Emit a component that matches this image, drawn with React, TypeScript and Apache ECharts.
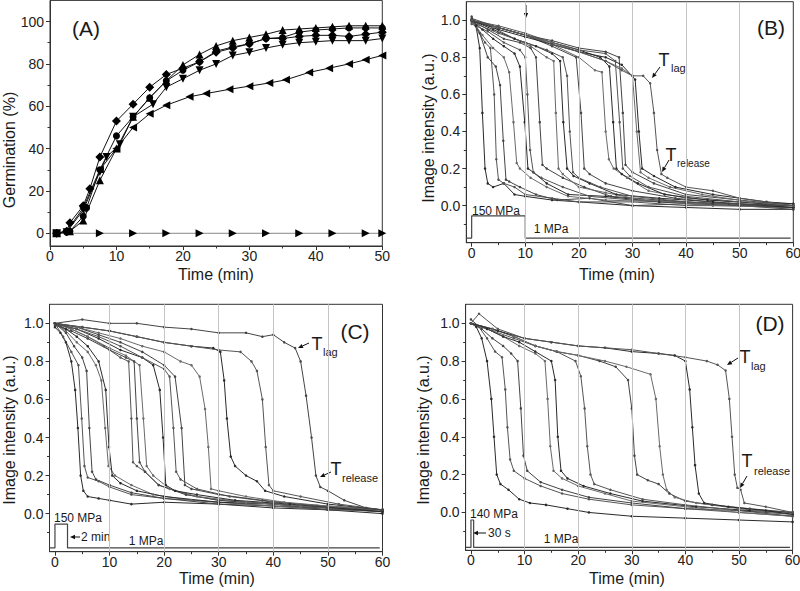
import React, { useEffect, useRef } from "react";
import * as echarts from "echarts";

const FONT = "Liberation Sans, Arial, sans-serif";

// ---------- Panel A: germination (%) vs time (min) ----------
const germDiamond = [[1,0],[2.5,1],[3,5],[5,13],[6,21],[7.5,36],[10,53],[12.5,61],[15,69],[17.5,75],[20,78],[22.5,81],[25,85.5],[27.5,87.5],[30,89.5],[32.5,92],[35,92],[37.5,93],[40,93.5],[42.5,93.5],[45,93],[47.5,94],[50,95]];
const germCircle = [[1,0],[2.5,0.5],[3,1],[5,8],[5.5,12],[7.5,30],[10,46],[12.5,55],[15,64],[17.5,72],[20,77],[22.5,81],[25,86],[27.5,88],[30,89.5],[32.5,92],[35,92.5],[37.5,95],[40,96],[42.5,96.5],[45,97],[47.5,97],[50,97]];
const germUp = [[1,0],[3,1],[5,6],[7.5,25],[10,40],[12.5,55],[15,64],[17.5,72],[20,79.5],[22.5,84.5],[25,88.5],[27.5,91],[30,92.5],[32.5,94],[35,96],[37.5,96.5],[40,97],[42.5,97.5],[45,98],[47.5,98],[50,98]];
const germDown = [[1,0],[2.5,0.5],[5,11],[7.5,29],[8.5,36],[10.5,42],[12.5,55],[15.5,61],[17.5,69],[20,73],[22.5,77],[25,80],[27.5,84],[30,85.5],[32.5,87.5],[35,89],[37.5,90],[40,90.5],[42.5,91],[45,91],[47.5,91],[50,92]];
const germLeft = [[1,0],[2.5,1],[5,12],[7.5,30],[10,40],[12.5,50],[15,56.5],[17.5,60.5],[21,64.5],[23.5,66],[27,68],[30,69.5],[33,71],[35.5,72.5],[39,76],[42,78],[45,80],[47.5,82],[50,84]];
const germRight = [[1,0],[7.5,0],[12.5,0],[17.5,0],[22.5,0],[27.5,0],[32.5,0],[37.5,0],[42.5,0],[47.5,0],[50,0]];

// ---------- Panel B: image intensity traces, 150 MPa for 10 min ----------
const tracesB = [
  [[0,1.0],[0.8,0.97],[1.5,0.85],[2.0,0.5],[2.5,0.2],[3,0.12],[4,0.1],[6,0.12],[8,0.06],[10,0.05],[15,0.03],[20,0.02],[30,0.0],[40,-0.01],[50,-0.02],[60,-0.02]],
  [[0,1.0],[1,0.95],[2.5,0.88],[3.5,0.85],[4.2,0.6],[4.6,0.25],[5,0.14],[6,0.12],[8,0.1],[10,0.06],[15,0.04],[20,0.02],[30,0.02],[40,0.0],[50,0.0],[60,-0.01]],
  [[0,1.02],[1.5,0.93],[3,0.8],[4.5,0.75],[5.3,0.65],[5.9,0.35],[6.4,0.14],[7,0.13],[9,0.1],[12,0.06],[16,0.03],[22,0.04],[30,0.0],[40,0.01],[50,0.0],[60,-0.02]],
  [[0,1.0],[2,0.92],[4,0.85],[6,0.8],[7,0.72],[7.8,0.45],[8.4,0.23],[9,0.2],[11,0.15],[14,0.1],[18,0.05],[25,0.03],[35,0.02],[45,0.0],[60,-0.01]],
  [[0,1.0],[2,0.95],[4,0.9],[6,0.86],[8,0.82],[9,0.75],[9.9,0.45],[10.5,0.2],[11.5,0.18],[14,0.12],[18,0.06],[25,0.05],[35,0.02],[45,0.01],[60,0.0]],
  [[0,0.98],[3,0.94],[6,0.88],[9,0.84],[10,0.8],[10.4,0.6],[10.9,0.3],[11.5,0.18],[13,0.15],[17,0.1],[22,0.05],[30,0.03],[40,0.02],[50,0.0],[60,-0.01]],
  [[0,1.0],[3,0.95],[6,0.9],[9,0.88],[11,0.85],[12,0.8],[12.7,0.45],[13.2,0.22],[14,0.2],[17,0.15],[21,0.1],[26,0.05],[35,0.03],[45,0.01],[60,-0.01]],
  [[0,1.0],[4,0.96],[8,0.9],[11,0.86],[14,0.8],[15.3,0.78],[15.7,0.5],[16.2,0.2],[17,0.17],[20,0.1],[25,0.07],[32,0.03],[42,0.01],[60,0.0]],
  [[0,1.0],[4,0.95],[8,0.9],[12,0.86],[15,0.82],[16.5,0.78],[17.1,0.45],[17.8,0.2],[19,0.16],[22,0.12],[27,0.06],[35,0.04],[45,0.02],[60,-0.01]],
  [[0,0.99],[5,0.93],[10,0.88],[14,0.84],[17,0.8],[17.8,0.7],[18.3,0.4],[18.9,0.18],[20,0.15],[24,0.1],[30,0.05],[40,0.02],[50,0.01],[60,0.0]],
  [[0,1.0],[5,0.96],[10,0.92],[15,0.86],[19.5,0.8],[20.4,0.5],[21,0.2],[22,0.17],[25,0.12],[30,0.08],[38,0.04],[48,0.01],[60,0.0]],
  [[0,1.0],[5,0.96],[10,0.92],[15,0.87],[20,0.8],[23,0.73],[24.3,0.72],[25,0.4],[25.6,0.25],[26.5,0.2],[29,0.15],[33,0.08],[40,0.04],[50,0.02],[60,0.0]],
  [[0,1.0],[5,0.96],[10,0.92],[15,0.88],[20,0.84],[24,0.8],[25.7,0.75],[26.4,0.45],[27,0.2],[28,0.17],[31,0.12],[36,0.06],[44,0.03],[60,0.0]],
  [[0,1.0],[5,0.97],[10,0.93],[15,0.88],[20,0.84],[25,0.82],[26.8,0.78],[27.6,0.45],[28.2,0.2],[29.5,0.16],[33,0.1],[40,0.05],[50,0.02],[60,0.01]],
  [[0,1.01],[5,0.96],[10,0.92],[15,0.89],[20,0.85],[25,0.83],[27.5,0.8],[28.2,0.5],[28.7,0.22],[30,0.18],[34,0.12],[40,0.06],[50,0.03],[60,0.0]],
  [[0,1.0],[5,0.96],[10,0.92],[15,0.88],[20,0.83],[25,0.78],[28,0.74],[30,0.7],[30.8,0.4],[31.5,0.18],[33,0.15],[37,0.1],[43,0.06],[52,0.02],[60,0.0]],
  [[0,1.0],[5,0.95],[10,0.91],[15,0.87],[20,0.83],[25,0.8],[28,0.76],[30.5,0.68],[31.2,0.4],[31.8,0.2],[34,0.16],[38,0.1],[45,0.06],[55,0.02],[60,0.01]],
  [[0,1.0],[5,0.96],[10,0.92],[15,0.87],[20,0.83],[25,0.78],[28,0.73],[30,0.7],[32,0.7],[33.3,0.66],[34,0.5],[34.6,0.3],[35.4,0.17],[36.5,0.15],[40,0.1],[45,0.08],[50,0.04],[55,0.02],[60,0.0]],
];
const pressureB = [[-1,-0.175],[0,-0.175],[0,-0.055],[10,-0.055],[10,-0.175],[59.5,-0.175]];

// ---------- Panel C: 150 MPa for 2 min ----------
const tracesC = [
  [[0,0.98],[1,0.95],[2,0.9],[3,0.8],[3.7,0.65],[4.2,0.45],[4.7,0.2],[5.2,0.12],[6,0.09],[8,0.08],[10,0.07],[14,0.05],[20,0.06],[30,0.05],[40,0.03],[50,0.02],[60,0.0]],
  [[0,1.0],[1.5,0.93],[3,0.85],[4.3,0.78],[4.9,0.5],[5.4,0.25],[6,0.19],[8,0.17],[10,0.14],[14,0.1],[20,0.08],[30,0.06],[40,0.04],[50,0.03],[60,0.01]],
  [[0,1.0],[2,0.95],[3.5,0.88],[5,0.82],[5.8,0.75],[6.3,0.45],[6.8,0.22],[7.5,0.18],[10,0.15],[14,0.11],[20,0.08],[30,0.05],[40,0.04],[50,0.02],[60,0.02]],
  [[0,1.0],[2,0.96],[4,0.9],[6,0.85],[7.5,0.78],[8.5,0.7],[9.2,0.45],[9.8,0.25],[11,0.2],[14,0.15],[18,0.1],[25,0.07],[35,0.05],[45,0.03],[60,0.01]],
  [[0,1.0],[2,0.97],[4,0.93],[6,0.88],[8,0.8],[9.3,0.65],[9.9,0.35],[10.5,0.2],[12,0.16],[15,0.12],[20,0.09],[30,0.06],[40,0.05],[50,0.03],[60,0.02]],
  [[0,1.0],[3,0.97],[6,0.93],[9,0.88],[12,0.82],[13.5,0.8],[14,0.5],[14.3,0.27],[15,0.25],[16.5,0.22],[19,0.15],[24,0.1],[30,0.07],[40,0.05],[50,0.03],[60,0.01]],
  [[0,0.99],[3,0.96],[6,0.92],[10,0.86],[13,0.82],[14.5,0.8],[15,0.5],[15.5,0.27],[16.5,0.22],[19,0.15],[24,0.1],[30,0.07],[40,0.05],[50,0.02],[60,0.02]],
  [[0,1.0],[3,0.97],[6,0.93],[10,0.87],[13,0.83],[15.5,0.78],[16.2,0.5],[16.8,0.25],[18,0.2],[21,0.13],[26,0.09],[35,0.06],[45,0.04],[60,0.02]],
  [[0,1.0],[4,0.97],[8,0.92],[12,0.86],[16,0.82],[18,0.78],[19.2,0.65],[19.8,0.4],[20.3,0.15],[22,0.12],[26,0.1],[33,0.07],[43,0.05],[60,0.01]],
  [[0,1.0],[4,0.97],[8,0.93],[12,0.88],[16,0.82],[20,0.76],[21,0.72],[21.7,0.45],[22.2,0.22],[23,0.18],[26,0.13],[32,0.09],[40,0.06],[50,0.04],[60,0.02]],
  [[0,1.0],[4,0.98],[8,0.94],[12,0.9],[16,0.85],[20,0.78],[22,0.72],[23.2,0.45],[23.8,0.15],[25,0.13],[30,0.1],[38,0.07],[48,0.04],[60,0.02]],
  [[0,1.0],[4,0.98],[8,0.95],[12,0.92],[16,0.88],[20,0.85],[23,0.8],[25,0.78],[26.5,0.72],[27.5,0.55],[28.1,0.35],[28.6,0.13],[30,0.12],[35,0.09],[42,0.06],[50,0.04],[60,0.02]],
  [[0,1.0],[5,0.98],[10,0.96],[15,0.93],[20,0.9],[25,0.88],[29,0.87],[30.3,0.85],[31,0.7],[31.5,0.5],[32.2,0.3],[33,0.25],[35,0.2],[37,0.17],[38.5,0.12],[42,0.09],[50,0.05],[60,0.02]],
  [[0,1.0],[5,0.98],[10,0.96],[15,0.93],[20,0.9],[25,0.88],[30,0.86],[34,0.85],[36,0.8],[37,0.75],[38,0.6],[38.6,0.35],[39.2,0.15],[40,0.12],[45,0.09],[52,0.05],[60,0.02]],
  [[0,1.0],[5,1.02],[10,1.0],[15,1.0],[20,0.98],[25,0.97],[30,0.95],[35,0.95],[38,0.93],[40,0.94],[42,0.9],[44,0.87],[45,0.8],[46,0.62],[47,0.4],[47.8,0.2],[48.6,0.14],[50,0.12],[53,0.07],[57,0.03],[60,0.02]],
];
const pressureC = [[-1,-0.18],[0,-0.18],[0,-0.055],[2.3,-0.055],[2.3,-0.18],[59.5,-0.18]];

// ---------- Panel D: 140 MPa for 30 s ----------
const tracesD = [
  [[0,1.0],[1,0.98],[2,0.92],[3,0.8],[3.8,0.6],[4.3,0.4],[4.8,0.2],[5.5,0.15],[7,0.12],[9,0.07],[11,0.05],[14,0.04],[18,0.02],[22,0.0],[30,-0.02],[40,-0.03],[50,-0.04],[60,-0.05]],
  [[0,1.0],[1.5,0.98],[3,0.92],[4.5,0.85],[5.8,0.82],[6.4,0.65],[6.8,0.45],[7.3,0.28],[8,0.22],[10,0.18],[13,0.14],[17,0.1],[22,0.07],[30,0.04],[40,0.02],[50,0.0],[60,-0.02]],
  [[0,1.02],[2,0.97],[4,0.92],[6,0.88],[7.5,0.84],[8.7,0.8],[9.3,0.55],[9.8,0.3],[10.5,0.22],[13,0.16],[17,0.12],[22,0.08],[30,0.05],[40,0.02],[50,0.01],[60,-0.01]],
  [[0,1.0],[3,0.97],[6,0.93],[9,0.88],[12,0.84],[13.8,0.8],[14.3,0.6],[14.8,0.35],[15.4,0.22],[17,0.18],[20,0.14],[25,0.1],[30,0.06],[40,0.03],[50,0.0],[60,-0.02]],
  [[0,1.0],[3,0.97],[6,0.93],[9,0.9],[12,0.85],[15,0.8],[15.7,0.7],[16.2,0.4],[16.8,0.22],[18,0.18],[21,0.14],[26,0.1],[32,0.06],[42,0.03],[52,0.01],[60,0.0]],
  [[0,1.0],[4,0.96],[8,0.92],[12,0.88],[16,0.85],[19.5,0.8],[20.5,0.72],[21.2,0.55],[21.7,0.35],[22.3,0.2],[23,0.15],[26,0.12],[32,0.07],[40,0.04],[50,0.01],[60,-0.02]],
  [[0,1.0],[4,0.97],[8,0.93],[12,0.88],[16,0.85],[20,0.83],[24,0.8],[27,0.77],[29.3,0.7],[30,0.55],[30.5,0.3],[31,0.2],[33,0.17],[35,0.15],[37,0.1],[40,0.06],[45,0.04],[52,0.02],[60,0.0]],
  [[0,1.0],[4,0.97],[8,0.93],[12,0.88],[16,0.85],[20,0.83],[25,0.8],[29,0.77],[33.5,0.73],[34.5,0.6],[35.2,0.35],[35.8,0.2],[36.5,0.12],[38,0.08],[42,0.05],[50,0.02],[60,-0.01]],
  [[0,1.0],[5,0.96],[10,0.92],[15,0.9],[20,0.88],[25,0.87],[30,0.85],[35,0.84],[38,0.83],[40,0.8],[40.8,0.65],[41.3,0.45],[41.8,0.25],[42.5,0.1],[43.5,0.05],[48,0.03],[55,0.01],[60,-0.01]],
  [[0,1.0],[1.5,1.05],[5,0.97],[10,0.92],[15,0.9],[20,0.88],[25,0.87],[30,0.86],[35,0.84],[40,0.82],[44,0.8],[46,0.78],[47.5,0.75],[48.2,0.6],[48.7,0.4],[49.2,0.2],[49.7,0.13],[50.3,0.12],[51,0.05],[55,0.03],[60,0.0]],
];
const pressureD = [[-1,-0.185],[0,-0.185],[0,-0.04],[0.5,-0.04],[0.5,-0.185],[59.5,-0.185]];

// ---------- ticks ----------
const ticksA_x = [0,10,20,30,40,50];
const minorA_x = [5,15,25,35,45];
const ticksA_y = [0,20,40,60,80,100];
const minorA_y = [10,30,50,70,90];
const ticksT_x = [0,10,20,30,40,50,60];
const minorT_x = [5,15,25,35,45,55];
const ticksT_y = [0,0.2,0.4,0.6,0.8,1.0];
const minorT_y = [-0.1,0.1,0.3,0.5,0.7,0.9];
const gridLinesX = [10,20,30,40,50];

const AX = "#333";

function makeAxes(gi: number, dim: "x" | "y", min: number, max: number, majors: number[], minors: number[], fmt?: (v: number) => string) {
  const main: any = {
    type: "value", gridIndex: gi, min, max,
    position: dim === "x" ? "bottom" : "left",
    axisLine: { show: true, onZero: false, lineStyle: { color: AX, width: 1 } },
    axisTick: { show: true, inside: false, length: 4, customValues: majors, lineStyle: { color: AX, width: 1 } },
    axisLabel: { show: true, customValues: majors, margin: dim === "x" ? 3 : 6, fontSize: 14, color: "#222", fontFamily: FONT, formatter: fmt },
    splitLine: { show: false },
  };
  const minor: any = {
    type: "value", gridIndex: gi, min, max,
    position: dim === "x" ? "bottom" : "left",
    axisLine: { show: false, onZero: false },
    axisTick: { show: true, inside: false, length: 2.5, customValues: minors, lineStyle: { color: AX, width: 1 } },
    axisLabel: { show: false },
    splitLine: { show: false },
  };
  return [main, minor];
}

const shades = ["#2a2a2a", "#555", "#444", "#6a6a6a"];

function traceSeries(traces: number[][][], axisIdx: number) {
  return traces.map((d, i) => ({
    type: "line", xAxisIndex: axisIdx, yAxisIndex: axisIdx, data: d,
    symbol: "circle", symbolSize: 2.5, showSymbol: true, silent: true, z: 3,
    lineStyle: { width: 1, color: shades[i % shades.length] },
    itemStyle: { color: shades[i % shades.length] },
  }));
}

function pressureSeries(data: number[][], axisIdx: number) {
  return {
    type: "line", xAxisIndex: axisIdx, yAxisIndex: axisIdx, data,
    symbol: "none", silent: true, z: 2,
    lineStyle: { width: 1.2, color: "#444" },
    markLine: {
      silent: true, symbol: ["none", "none"], label: { show: false },
      lineStyle: { color: "#c4c4c4", type: "solid", width: 1 },
      data: gridLinesX.map((v) => ({ xAxis: v })),
    },
  };
}

function germSeries(data: number[][], symbol: string, rotate: number, size: number, lineColor = "#111") {
  return {
    type: "line", xAxisIndex: 0, yAxisIndex: 0, data,
    symbol, symbolRotate: rotate, symbolSize: size, showSymbol: true, silent: true, z: 3,
    lineStyle: { width: 1, color: lineColor }, itemStyle: { color: "#000" },
  };
}

function txt(x: number, y: number, text: string, size: number, align = "center", rotation = 0) {
  return {
    type: "text", x, y, rotation, silent: true,
    style: { text, fontSize: size, fontFamily: FONT, fill: "#1a1a1a", align, verticalAlign: "middle" },
  };
}

function arrow(x1: number, y1: number, x2: number, y2: number) {
  const ang = Math.atan2(y2 - y1, x2 - x1);
  const L = 5, W = 2.2;
  const bx = x2 - L * Math.cos(ang), by = y2 - L * Math.sin(ang);
  const px = -Math.sin(ang) * W, py = Math.cos(ang) * W;
  return [
    { type: "line", silent: true, shape: { x1, y1, x2: bx, y2: by }, style: { stroke: "#111", lineWidth: 1 } },
    { type: "polygon", silent: true, shape: { points: [[x2, y2], [bx + px, by + py], [bx - px, by - py]] }, style: { fill: "#111" } },
  ];
}

const fmt1 = (v: number) => v.toFixed(1);

export default function App() {
  const ref = useRef<HTMLDivElement>(null);
  useEffect(() => {
    document.body.style.margin = "0";
    const chart = echarts.init(ref.current!, null, { renderer: "svg" });
    const grids = [
      { left: 50, top: 0.4, width: 332.3, height: 245.6 },
      { left: 466.3, top: 1.7, width: 327, height: 241 },
      { left: 49.5, top: 304.3, width: 333, height: 247.4 },
      { left: 465.6, top: 304.3, width: 327, height: 246 },
    ].map((g) => ({ ...g, show: true, borderColor: AX, borderWidth: 1, backgroundColor: "transparent", containLabel: false, outerBoundsMode: "none" }));

    const xAxis = [
      ...makeAxes(0, "x", 0, 50, ticksA_x, minorA_x),
      ...makeAxes(1, "x", -1, 60, ticksT_x, minorT_x),
      ...makeAxes(2, "x", -1, 60, ticksT_x, minorT_x),
      ...makeAxes(3, "x", -1, 60, ticksT_x, minorT_x),
    ];
    const yAxis = [
      ...makeAxes(0, "y", -6, 110, ticksA_y, minorA_y),
      ...makeAxes(1, "y", -0.2, 1.1, ticksT_y, minorT_y, fmt1),
      ...makeAxes(2, "y", -0.2, 1.1, ticksT_y, minorT_y, fmt1),
      ...makeAxes(3, "y", -0.2, 1.1, ticksT_y, minorT_y, fmt1),
    ];

    const series: any[] = [
      germSeries(germRight, "triangle", -90, 8, "#888"),
      germSeries(germLeft, "triangle", 90, 8),
      germSeries(germDown, "triangle", 180, 8),
      germSeries(germCircle, "circle", 0, 7),
      germSeries(germUp, "triangle", 0, 8),
      germSeries(germDiamond, "diamond", 0, 9),
      pressureSeries(pressureB, 2),
      ...traceSeries(tracesB, 2),
      pressureSeries(pressureC, 4),
      ...traceSeries(tracesC, 4),
      pressureSeries(pressureD, 6),
      ...traceSeries(tracesD, 6),
    ];

    const graphic: any[] = [
      // Panel A
      txt(86, 28, "(A)", 21),
      txt(9, 150, "Germination (%)", 16, "center", Math.PI / 2),
      txt(216, 274, "Time (min)", 16),
      // Panel B
      txt(771, 27, "(B)", 21),
      txt(428, 128, "Image intensity (a.u.)", 16, "center", Math.PI / 2),
      txt(617, 274, "Time (min)", 16),
      txt(496, 211, "150 MPa", 12),
      txt(551, 229, "1 MPa", 12),
      txt(664, 60, "T", 18),
      txt(671, 68, "lag", 11, "left"),
      ...arrow(660, 67, 652, 78),
      txt(671, 155, "T", 18),
      txt(677, 163, "release", 10, "left"),
      ...arrow(669, 160, 662, 172),
      ...arrow(526, 5, 526, 18),
      // Panel C
      txt(355, 331, "(C)", 21),
      txt(9, 430, "Image intensity (a.u.)", 16, "center", Math.PI / 2),
      txt(217, 578, "Time (min)", 16),
      txt(78, 518, "150 MPa", 12),
      ...arrow(80, 537, 70, 537),
      txt(81, 537, "2 min", 12, "left"),
      txt(146, 541, "1 MPa", 12),
      txt(317, 344, "T", 18),
      txt(323, 352, "lag", 11, "left"),
      ...arrow(309, 343, 298, 348),
      txt(336, 469, "T", 18),
      txt(342, 478, "release", 11, "left"),
      ...arrow(331, 472, 320, 477),
      // Panel D
      txt(770, 323, "(D)", 21),
      txt(423, 430, "Image intensity (a.u.)", 16, "center", Math.PI / 2),
      txt(627, 578, "Time (min)", 16),
      txt(494, 514, "140 MPa", 12),
      ...arrow(486, 533, 473, 533),
      txt(488, 533, "30 s", 12, "left"),
      txt(561, 539, "1 MPa", 12),
      txt(745, 357, "T", 18),
      txt(751, 366, "lag", 11, "left"),
      ...arrow(738, 358, 727, 365),
      txt(747, 461, "T", 18),
      txt(754, 471, "release", 11, "left"),
      ...arrow(747, 476, 740, 488),
    ];

    chart.setOption({
      animation: false,
      backgroundColor: "#fff",
      textStyle: { fontFamily: FONT },
      grid: grids,
      xAxis,
      yAxis,
      series,
      graphic,
    });
    return () => chart.dispose();
  }, []);
  return <div ref={ref} style={{ position: "absolute", left: 0, top: 0, width: "800px", height: "591px" }} />;
}
